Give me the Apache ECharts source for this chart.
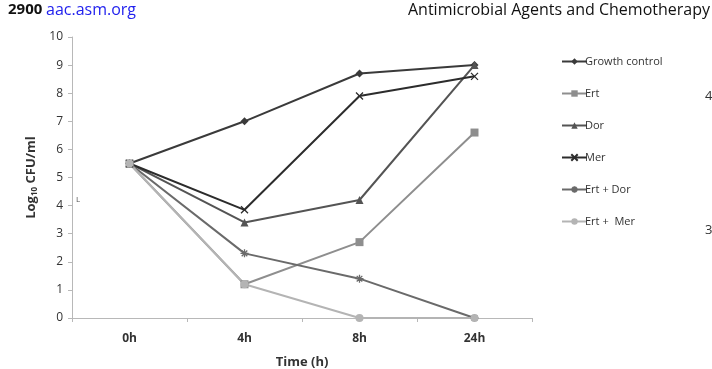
<!DOCTYPE html>
<html><head><meta charset="utf-8">
<script src="https://cdn.jsdelivr.net/npm/echarts@6/dist/echarts.min.js"></script>
<style>html,body{margin:0;padding:0;background:#fff;}#c{width:712px;height:369px;}</style>
</head><body><div id="c"></div>
<script>
var categories = ['0h', '4h', '8h', '24h'];
var yTicks = [0, 1, 2, 3, 4, 5, 6, 7, 8, 9, 10];
var growthControl = [5.5, 7.0, 8.7, 9.0];
var ert = [5.5, 1.2, 2.7, 6.6];
var dor = [5.5, 3.4, 4.2, 9.0];
var mer = [5.5, 3.85, 7.9, 8.6];
var ertDor = [5.5, 2.3, 1.4, 0];
var ertMer = [5.5, 1.2, 0, 0];

var X_PATH = 'path://M0,0L10,10M10,0L0,10';
var STAR_PATH = 'path://M0,5L10,5M5,0L5,10M1.5,1.5L8.5,8.5M8.5,1.5L1.5,8.5';

function mk(name, data, color, symbol, size, stroke) {
  var s = {
    name: name, type: 'line', data: data, symbol: symbol, symbolSize: size,
    lineStyle: {color: color, width: 2}, itemStyle: {color: color},
    emphasis: {disabled: true}, z: 3
  };
  if (stroke) s.itemStyle = {color: 'rgba(0,0,0,0)', borderColor: color, borderWidth: 1.3};
  return s;
}

var chart = echarts.init(document.getElementById('c'), null, {renderer: 'canvas'});
chart.setOption({
  animation: false,
  backgroundColor: '#fff',
  grid: {left: 72, right: 180, top: 37, bottom: 51, containLabel: false, outerBoundsMode: 'none'},
  xAxis: {
    type: 'category', data: categories, boundaryGap: true,
    axisLine: {lineStyle: {color: '#b8b8b8', width: 1}},
    axisTick: {show: true, lineStyle: {color: '#b8b8b8'}, length: 4},
    axisLabel: {color: '#333', fontFamily: 'Open Sans', fontSize: 12, fontWeight: 'bold', margin: 15},
    name: 'Time (h)', nameLocation: 'middle', nameGap: 38,
    nameTextStyle: {color: '#333', fontFamily: 'Open Sans', fontSize: 13, fontWeight: 'bold'}
  },
  yAxis: {
    type: 'value', min: yTicks[0], max: yTicks[yTicks.length - 1], interval: 1,
    splitLine: {show: false},
    axisLine: {show: true, lineStyle: {color: '#b8b8b8', width: 1}},
    axisTick: {show: true, lineStyle: {color: '#b8b8b8'}, length: 4},
    axisLabel: {color: '#333', fontFamily: 'Open Sans', fontSize: 12, margin: 9},
    name: '{a|Log}{s|10}{a| CFU/ml}', nameLocation: 'middle', nameGap: 32, nameRotate: 90,
    nameTextStyle: {rich: {
      a: {color: '#333', fontFamily: 'Open Sans', fontSize: 13, fontWeight: 'bold'},
      s: {color: '#333', fontFamily: 'Open Sans', fontSize: 8, fontWeight: 'bold', verticalAlign: 'bottom', padding: [7, 0, 0, 0]}
    }}
  },
  legend: {
    orient: 'vertical', left: 556, top: 51, itemWidth: 25, itemHeight: 8, itemGap: 21,
    textStyle: {color: '#333', fontFamily: 'Open Sans', fontSize: 11, padding: [0, 0, 0, -7]},
    data: ['Growth control', 'Ert', 'Dor', 'Mer', 'Ert + Dor', 'Ert +  Mer']
  },
  graphic: [
    {type: 'text', left: 8, top: 2, style: {text: '2900', font: 'bold 15px "Open Sans"', fill: '#111'}},
    {type: 'text', left: 46, top: 2, style: {text: 'aac.asm.org', font: '16px "Open Sans"', fill: '#2222ee'}},
    {type: 'text', right: 2, top: 2, style: {text: 'Antimicrobial Agents and Chemotherapy', font: '16px "Open Sans"', fill: '#111'}},
    {type: 'text', left: 705, top: 90, style: {text: '4', font: '13px "Open Sans"', fill: '#333'}},
    {type: 'text', left: 705, top: 224, style: {text: '3', font: '13px "Open Sans"', fill: '#333'}},
    {type: 'text', left: 76, top: 196, style: {text: 'L', font: '8px "Open Sans"', fill: '#555'}}
  ],
  series: [
    mk('Growth control', growthControl, '#3a3a3a', 'diamond', 8),
    mk('Ert', ert, '#8e8e8e', 'rect', 8),
    mk('Dor', dor, '#545454', 'triangle', 8),
    mk('Mer', mer, '#2c2c2c', X_PATH, 7, true),
    mk('Ert + Dor', ertDor, '#6a6a6a', STAR_PATH, 8, true),
    mk('Ert +  Mer', ertMer, '#b4b4b4', 'circle', 8)
  ]
});
</script></body></html>
